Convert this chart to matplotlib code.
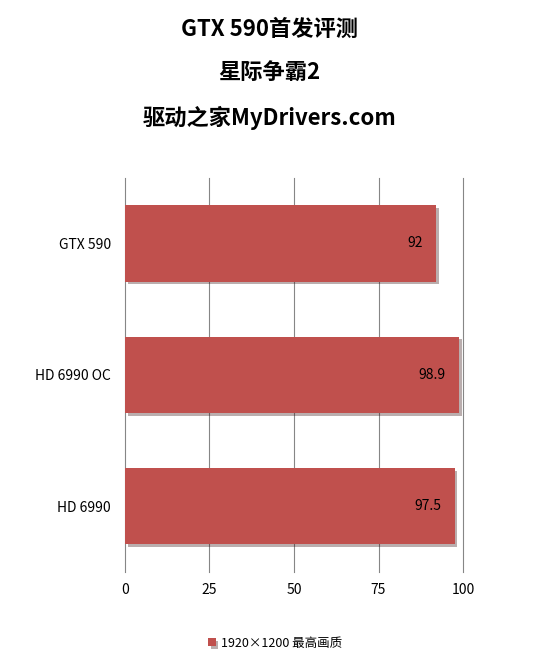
import matplotlib
matplotlib.use("Agg")
import matplotlib.pyplot as plt
import matplotlib.patheffects as pe

plt.rcParams['font.family'] = ['Noto Sans CJK SC', 'DejaVu Sans']

cards = ["HD 6990", "HD 6990 OC", "GTX 590"]
fps = [97.5, 98.9, 92]
ticks = [0, 25, 50, 75, 100]
series_name = "1920×1200 最高画质"

fig = plt.figure(figsize=(5.5, 6.61), dpi=100)
ax = fig.add_axes([0.227, 0.135, 0.615, 0.596])

bars = ax.barh(range(len(cards)), fps, height=0.58, color="#C0504D",
               zorder=3, label=series_name)
for b in bars:
    b.set_path_effects([pe.SimplePatchShadow(offset=(2, -2), alpha=0.35), pe.Normal()])
for i, v in enumerate(fps):
    ax.text(v - 4, i, f"{v:g}", ha="right", va="center", fontsize=10, zorder=4)

ax.set_xlim(0, 100)
ax.set_ylim(-0.5, len(cards) - 0.5)
ax.set_xticks(ticks)
ax.set_yticks(range(len(cards)))
ax.set_yticklabels(cards, fontsize=10)
ax.tick_params(axis="x", labelsize=10, length=0, pad=8)
ax.tick_params(axis="y", length=0, pad=10)
for t in ticks[1:]:
    ax.axvline(t, color="#868686", linewidth=0.8, zorder=0, clip_on=False)
for s in ["top", "right", "bottom"]:
    ax.spines[s].set_visible(False)
ax.spines["left"].set_color("#868686")

for y, t in [(0.955, "GTX 590首发评测"), (0.89, "星际争霸2"), (0.822, "驱动之家MyDrivers.com")]:
    fig.text(0.49, y, t, ha="center", va="center", fontsize=16, fontweight="bold")

fig.legend(loc="lower center", bbox_to_anchor=(0.5, 0.0), frameon=False,
           fontsize=9, handlelength=0.6, handleheight=0.6, handletextpad=0.4)

fig.savefig("out.png", dpi=100)
